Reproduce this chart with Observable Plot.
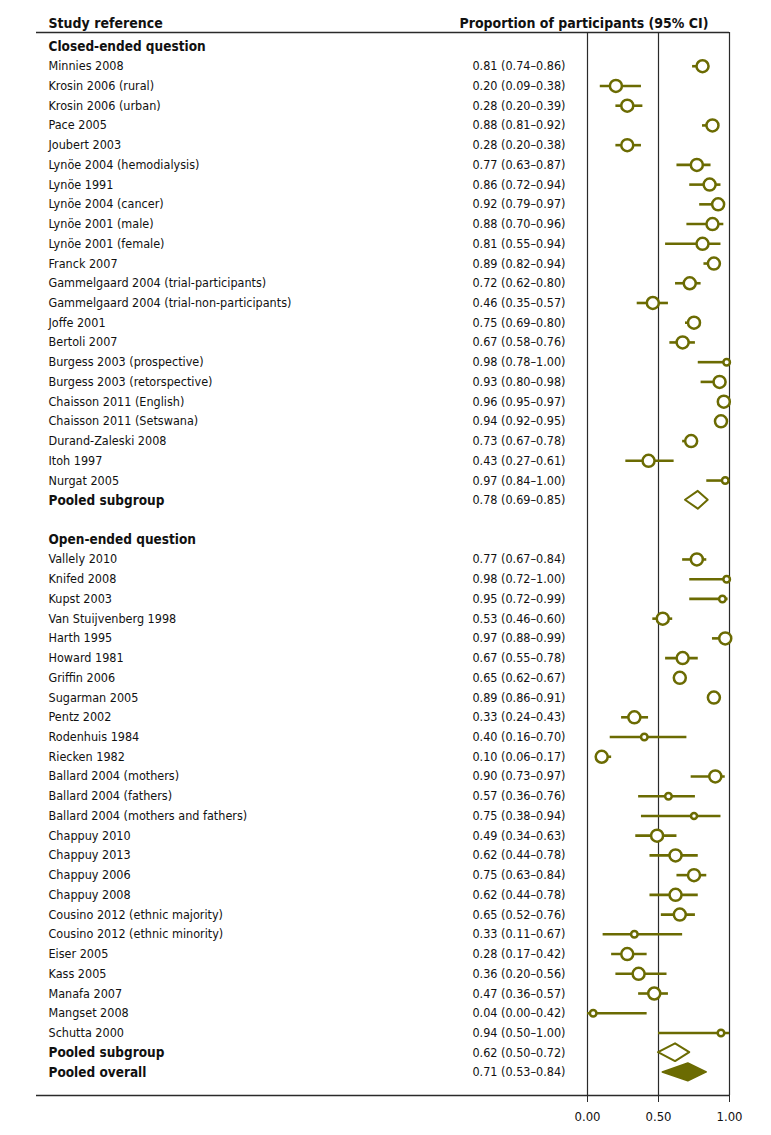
<!DOCTYPE html>
<html>
<head>
<meta charset="utf-8">
<script src="https://cdn.jsdelivr.net/npm/d3@7"></script>
<script src="https://cdn.jsdelivr.net/npm/@observablehq/plot@0.6"></script>
<style>
  html, body { margin: 0; padding: 0; background: #fff; }
</style>
</head>
<body>
<div id="chart"></div>
<script>
// ---- Data ----
const closedNames = [
  "Minnies 2008", "Krosin 2006 (rural)", "Krosin 2006 (urban)", "Pace 2005", "Joubert 2003",
  "Lynöe 2004 (hemodialysis)", "Lynöe 1991", "Lynöe 2004 (cancer)", "Lynöe 2001 (male)",
  "Lynöe 2001 (female)", "Franck 2007", "Gammelgaard 2004 (trial-participants)",
  "Gammelgaard 2004 (trial-non-participants)", "Joffe 2001", "Bertoli 2007",
  "Burgess 2003 (prospective)", "Burgess 2003 (retorspective)", "Chaisson 2011 (English)",
  "Chaisson 2011 (Setswana)", "Durand-Zaleski 2008", "Itoh 1997", "Nurgat 2005"
];
const closedEst = [0.81,0.20,0.28,0.88,0.28,0.77,0.86,0.92,0.88,0.81,0.89,0.72,0.46,0.75,0.67,0.98,0.93,0.96,0.94,0.73,0.43,0.97];
const closedLo  = [0.74,0.09,0.20,0.81,0.20,0.63,0.72,0.79,0.70,0.55,0.82,0.62,0.35,0.69,0.58,0.78,0.80,0.95,0.92,0.67,0.27,0.84];
const closedHi  = [0.86,0.38,0.39,0.92,0.38,0.87,0.94,0.97,0.96,0.94,0.94,0.80,0.57,0.80,0.76,1.00,0.98,0.97,0.95,0.78,0.61,1.00];
// relative study weight (marker area)
const closedWeight = [1,1,1,1,1,1,1,1,1,1,1,1,1,1,1,0.3,1,1,1,1,1,0.3];

const openNames = [
  "Vallely 2010", "Knifed 2008", "Kupst 2003", "Van Stuijvenberg 1998", "Harth 1995",
  "Howard 1981", "Griffin 2006", "Sugarman 2005", "Pentz 2002", "Rodenhuis 1984",
  "Riecken 1982", "Ballard 2004 (mothers)", "Ballard 2004 (fathers)",
  "Ballard 2004 (mothers and fathers)", "Chappuy 2010", "Chappuy 2013", "Chappuy 2006",
  "Chappuy 2008", "Cousino 2012 (ethnic majority)", "Cousino 2012 (ethnic minority)",
  "Eiser 2005", "Kass 2005", "Manafa 2007", "Mangset 2008", "Schutta 2000"
];
const openEst = [0.77,0.98,0.95,0.53,0.97,0.67,0.65,0.89,0.33,0.40,0.10,0.90,0.57,0.75,0.49,0.62,0.75,0.62,0.65,0.33,0.28,0.36,0.47,0.04,0.94];
const openLo  = [0.67,0.72,0.72,0.46,0.88,0.55,0.62,0.86,0.24,0.16,0.06,0.73,0.36,0.38,0.34,0.44,0.63,0.44,0.52,0.11,0.17,0.20,0.36,0.00,0.50];
const openHi  = [0.84,1.00,0.99,0.60,0.99,0.78,0.67,0.91,0.43,0.70,0.17,0.97,0.76,0.94,0.63,0.78,0.84,0.78,0.76,0.67,0.42,0.56,0.57,0.42,1.00];
const openWeight = [1,0.3,0.3,1,1,1,1,1,1,0.3,1,1,0.3,0.25,1,1,1,1,1,0.3,1,1,1,0.3,0.3];

const groupLabels = ["Closed-ended question", "Open-ended question"];
const pooledLabels = ["Pooled subgroup", "Pooled subgroup", "Pooled overall"];
const pooledEst = [0.78, 0.62, 0.71];
const pooledLo  = [0.69, 0.50, 0.53];
const pooledHi  = [0.85, 0.72, 0.84];

const tickValues = [0, 0.5, 1];
const headerLeft = "Study reference";
const headerRight = "Proportion of participants (95% CI)";

// ---- Build rows ----
const fmt = d3.format(".2f");
const ci = (e, l, h) => `${fmt(e)} (${fmt(l)}–${fmt(h)})`;

const headers = [];
const studies = [];
const pooled = [];
let row = 0;
headers.push({row: row++, label: groupLabels[0]});
closedNames.forEach((n, i) => studies.push({row: row++, label: n, est: closedEst[i], lo: closedLo[i], hi: closedHi[i], w: closedWeight[i]}));
pooled.push({row: row++, label: pooledLabels[0], est: pooledEst[0], lo: pooledLo[0], hi: pooledHi[0], filled: false});
row++; // blank line
headers.push({row: row++, label: groupLabels[1]});
openNames.forEach((n, i) => studies.push({row: row++, label: n, est: openEst[i], lo: openLo[i], hi: openHi[i], w: openWeight[i]}));
pooled.push({row: row++, label: pooledLabels[1], est: pooledEst[1], lo: pooledLo[1], hi: pooledHi[1], filled: false});
pooled.push({row: row++, label: pooledLabels[2], est: pooledEst[2], lo: pooledLo[2], hi: pooledHi[2], filled: true});

const lastRow = row - 1;
const yDomain = [-0.71, lastRow + 1.17];

// diamond outlines as areas
const halfH = 0.45;
const diamondPts = (d) => [
  {key: d.row, y: d.row - halfH, x1: d.est, x2: d.est},
  {key: d.row, y: d.row, x1: d.lo, x2: d.hi},
  {key: d.row, y: d.row + halfH, x1: d.est, x2: d.est}
];
const openDiamonds = pooled.filter(d => !d.filled).flatMap(diamondPts);
const filledDiamonds = pooled.filter(d => d.filled).flatMap(diamondPts);

const olive = "#6b6b02";
const lineColor = "#2a2a2a";

const chart = Plot.plot({
  width: 771,
  height: 1135,
  marginLeft: 36,
  marginRight: 42,
  marginTop: 32,
  marginBottom: 40,
  style: {fontFamily: "'Liberation Sans Narrow', 'DejaVu Sans Condensed', 'Arial Narrow', sans-serif", fontSize: "12.5px", color: "#111", background: "#fff"},
  x: {domain: [0, 1], range: [587, 729], axis: null},
  y: {domain: yDomain, range: [32, 1095], axis: null},
  r: {type: "sqrt", domain: [0, 1], range: [0, 6]},
  marks: [
    // frame lines
    Plot.ruleY([yDomain[0], yDomain[1]], {stroke: lineColor, strokeWidth: 1.3}),
    Plot.ruleX(tickValues, {stroke: lineColor, strokeWidth: 1.2}),
    Plot.axisX(tickValues, {tickFormat: fmt, tickSize: 7, tickPadding: 9, fontSize: 13, label: null, stroke: lineColor}),
    // headers
    Plot.text([headerLeft], {frameAnchor: "top-left", dx: 12, dy: -14, textAnchor: "start", fontWeight: "bold", fontSize: 14}),
    Plot.text([headerRight], {frameAnchor: "top-right", dx: -21, dy: -14, textAnchor: "end", fontWeight: "bold", fontSize: 14}),
    // labels
    Plot.text(headers, {y: "row", text: "label", frameAnchor: "left", dx: 12, textAnchor: "start", fontWeight: "bold", fontSize: 13.5}),
    Plot.text(pooled, {y: "row", text: "label", frameAnchor: "left", dx: 12, textAnchor: "start", fontWeight: "bold", fontSize: 13.5}),
    Plot.text(studies, {y: "row", text: "label", frameAnchor: "left", dx: 12, textAnchor: "start"}),
    // value column
    Plot.text(studies.concat(pooled), {y: "row", text: d => ci(d.est, d.lo, d.hi), frameAnchor: "right", dx: -164, textAnchor: "end"}),
    // CIs and markers
    Plot.ruleY(studies, {y: "row", x1: "lo", x2: "hi", stroke: olive, strokeWidth: 2.6}),
    Plot.dot(studies, {x: "est", y: "row", r: "w", stroke: olive, fill: "white", strokeWidth: 2.5}),
    Plot.areaX(openDiamonds, {y: "y", x1: "x1", x2: "x2", z: "key", fill: "white", stroke: olive, strokeWidth: 2}),
    Plot.areaX(filledDiamonds, {y: "y", x1: "x1", x2: "x2", z: "key", fill: olive, stroke: olive, strokeWidth: 1.5})
  ]
});
document.getElementById("chart").appendChild(chart);
</script>
</body>
</html>
